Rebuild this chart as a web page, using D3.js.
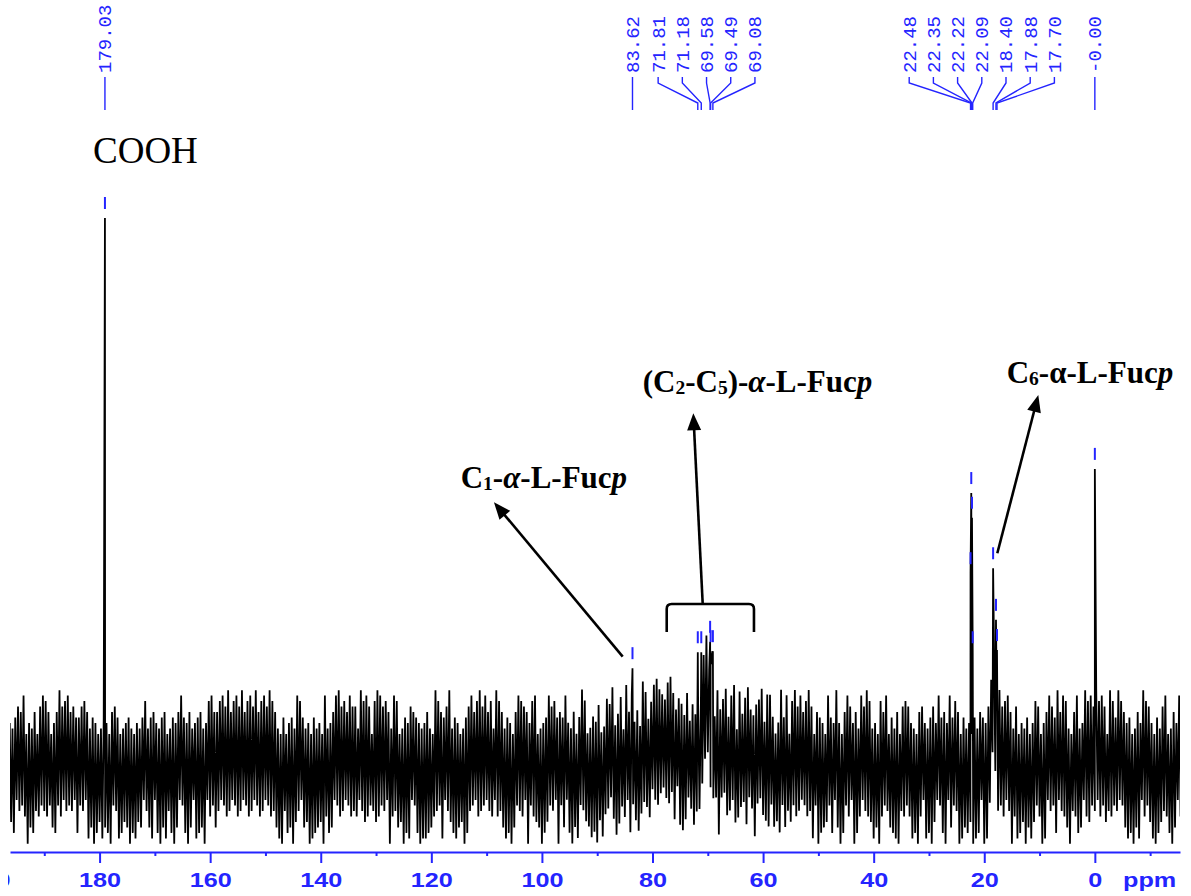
<!DOCTYPE html>
<html>
<head>
<meta charset="utf-8">
<script src="https://cdn.jsdelivr.net/npm/d3@7"></script>
<style>
  html, body { margin: 0; padding: 0; background: #fff; }
  svg { display: block; }
</style>
</head>
<body>
<svg id="chart" width="1191" height="896"></svg>
<script>
// ---- 13C NMR spectrum data (chemical shift in ppm, intensity in arbitrary units, baseline = 0) ----
const peakPpm    = [179.03, 83.62, 71.81, 71.18, 69.58, 69.49, 69.08, 22.48, 22.35, 22.22, 22.09, 18.40, 17.88, 17.70, 0.00];
const peakLabels = ["179.03", "83.62", "71.81", "71.18", "69.58", "69.49", "69.08", "22.48", "22.35", "22.22", "22.09", "18.40", "17.88", "17.70", "-0.00"];
const peakHeight = [100, 18.0, 20.9, 20.9, 22.8, 21.1, 21.1, 35.3, 49.9, 45.4, 20.9, 36.2, 26.8, 21.3, 54.3];

// broad, unresolved signal underneath the sharp lines
const broadPpm    = [75.0, 70.2, 18.35];
const broadHeight = [2.5, 8, 14];
const broadSpread = [7, 0.8, 0.25];

// baseline noise: one digit per 0.25 ppm step from 196.25 ppm downfield to upfield;
// even steps swing above the baseline, odd steps below it, by (5 + digit) units
const noiseStart = 196.25;
const noiseStep = 0.25;
const noiseDigits =
  "35274163528419362753146283745216375294617382536147" +
  "42637158264937152846371952634817253649271835264173" +
  "26485137294658132749365182473956213847562931748256" +
  "53718264935172846391527483619254738162947356281943" +
  "17364925837146253918472635198427365182946371528463" +
  "64219375846213759482637159248376152947386152473928" +
  "38572614937258416395274836152947638251749362815374" +
  "21947356284739165283746159327485162937458263714952" +
  "46813729561842937516284739651824736195284673159248" +
  "73264815937426518394726153849267315849276315482637" +
  "15739246851379426185347296158342769153486271943586" +
  "82461537924683157294638152749368125947361582473196" +
  "39175284613957248163947528361974528316472859136472" +
  "64382719546138274965318247593186427359184627351948" +
  "27514938627451839264718359246817352946183572641938" +
  "51836247915384762913548726319475826391748265139472" +
  "43917256384719265831947265381947256384172956318427" +
  "26374915832647195382647193528461739258416372951846";

// axis ticks (ppm)
const axisMajor = [200, 180, 160, 140, 120, 100, 80, 60, 40, 20, 0];
const axisMinor = [190, 170, 150, 130, 110, 90, 70, 50, 30, 10, -10];

// ---- drawing ----
const svg = d3.select("#chart");
const blue = "#2424ff";
const serif = "'Times New Roman', 'Liberation Serif', serif";
const sans = "Arial, 'Liberation Sans', sans-serif";
const mono = "'Courier New', 'Liberation Mono', monospace";

const x = d3.scaleLinear().domain([196.2, -15.4]).range([10, 1180]);
const y = d3.scaleLinear().domain([0, 100]).range([767, 218]);
const axisY = 852;

const defs = svg.append("defs");
defs.append("clipPath").attr("id", "plotClip")
  .append("rect").attr("x", x.range()[0]).attr("y", 0)
  .attr("width", x.range()[1] - x.range()[0]).attr("height", 896);
defs.append("clipPath").attr("id", "axisClip")
  .append("rect").attr("x", 8).attr("y", -1000).attr("width", 1183).attr("height", 2000);

// spectrum trace: noise + broad components on the grid, sharp lines inserted at their shifts
const samples = [];
for (let i = 0; i < noiseDigits.length; i++) {
  const ppm = noiseStart - i * noiseStep;
  let v = (i % 2 === 0 ? 1 : -1) * (5 + Number(noiseDigits[i]));
  broadPpm.forEach((c, k) => {
    v += broadHeight[k] * Math.exp(-((ppm - c) ** 2) / (2 * broadSpread[k] ** 2));
  });
  samples.push({ ppm, v });
}
peakPpm.forEach((p, k) => samples.push({ ppm: p, v: peakHeight[k] }));
samples.sort((a, b) => b.ppm - a.ppm);

svg.append("path")
  .datum(samples)
  .attr("clip-path", "url(#plotClip)")
  .attr("fill", "none")
  .attr("stroke", "#000")
  .attr("stroke-width", 1.8)
  .attr("stroke-linejoin", "bevel")
  .attr("d", d3.line().x(d => x(d.ppm)).y(d => y(d.v)));

// small blue markers above each picked peak
svg.append("g").selectAll("line")
  .data(peakPpm)
  .join("line")
  .attr("x1", d => x(d)).attr("x2", d => x(d))
  .attr("y1", (d, i) => y(peakHeight[i]) - 21)
  .attr("y2", (d, i) => y(peakHeight[i]) - 9)
  .attr("stroke", blue).attr("stroke-width", 2);

// peak-pick labels: spread crowded labels evenly around their peaks
const labelGap = 24.2;
let blocks = peakPpm.map((p, i) => ({ idx: [i], sum: x(p), start: x(p) }));
let merged = true;
while (merged) {
  merged = false;
  for (let i = 0; i < blocks.length - 1; i++) {
    const a = blocks[i], b = blocks[i + 1];
    if (a.start + a.idx.length * labelGap > b.start) {
      const idx = a.idx.concat(b.idx), sum = a.sum + b.sum;
      blocks.splice(i, 2, { idx, sum, start: sum / idx.length - (idx.length - 1) * labelGap / 2 });
      merged = true;
      break;
    }
  }
}
const labelX = [];
blocks.forEach(b => b.idx.forEach((k, j) => { labelX[k] = b.start + j * labelGap; }));

const pick = svg.append("g");
pick.selectAll("path")
  .data(peakPpm)
  .join("path")
  .attr("fill", "none")
  .attr("stroke", blue)
  .attr("stroke-width", 1.4)
  .attr("d", (p, i) => {
    const lx = labelX[i], px = x(p);
    return Math.abs(lx - px) < 0.5 ? `M${px},77V110` : `M${lx},77V83L${px},103V110`;
  });
pick.selectAll("text")
  .data(peakLabels)
  .join("text")
  .attr("transform", (t, i) => `translate(${labelX[i] + 6.5},73) rotate(-90)`)
  .attr("font-family", mono)
  .attr("font-size", 19)
  .attr("fill", blue)
  .text(t => t);

// ppm axis
const axisG = svg.append("g").attr("transform", `translate(0,${axisY})`);
axisG.append("g")
  .call(d3.axisBottom(x).tickValues(axisMinor).tickSize(4).tickSizeOuter(0).tickFormat(""))
  .call(g => g.select(".domain").remove())
  .call(g => g.selectAll("line").attr("stroke", blue).attr("stroke-width", 2));
const major = axisG.append("g")
  .attr("clip-path", "url(#axisClip)")
  .call(d3.axisBottom(x).tickValues(axisMajor).tickSize(11).tickSizeOuter(0).tickFormat(d3.format("d")));
major.select(".domain").attr("stroke", blue).attr("stroke-width", 2);
major.selectAll(".tick line").attr("stroke", blue).attr("stroke-width", 2);
major.selectAll(".tick text")
  .attr("y", 35).attr("dy", 0)
  .attr("transform", "scale(1.2,1)")
  .attr("font-family", sans).attr("font-weight", "bold").attr("font-size", 21)
  .attr("fill", blue);
axisG.append("text")
  .attr("transform", `translate(${x.range()[1] - 57},35) scale(1.2,1)`)
  .attr("font-family", sans).attr("font-weight", "bold").attr("font-size", 21)
  .attr("fill", blue)
  .text("ppm");

// ---- annotations ----
const ann = svg.append("g");

function richText(ppm, val, size, parts) {
  const t = ann.append("text")
    .attr("x", x(ppm)).attr("y", y(val))
    .attr("font-family", serif).attr("font-weight", "bold").attr("font-size", size)
    .attr("fill", "#000");
  let shift = 0;
  parts.forEach(p => {
    const s = t.append("tspan").text(p.t);
    const want = p.sub ? 1.5 : 0;
    if (want !== shift) { s.attr("dy", want - shift); shift = want; }
    if (p.sub) s.attr("font-size", size * 0.63);
    if (p.it) s.attr("font-style", "italic");
  });
}

function arrow(p1, v1, p2, v2) {
  const x1 = x(p1), y1 = y(v1), x2 = x(p2), y2 = y(v2);
  const dx = x2 - x1, dy = y2 - y1, len = Math.hypot(dx, dy);
  const ux = dx / len, uy = dy / len, hl = 17, hw = 7;
  const bx = x2 - ux * hl, by = y2 - uy * hl;
  ann.append("line")
    .attr("x1", x1).attr("y1", y1).attr("x2", bx + ux * 2).attr("y2", by + uy * 2)
    .attr("stroke", "#000").attr("stroke-width", 2.6);
  ann.append("path")
    .attr("d", `M${x2},${y2}L${bx - uy * hw},${by + ux * hw}L${bx + uy * hw},${by - ux * hw}Z`)
    .attr("fill", "#000");
}

ann.append("text")
  .attr("x", x(181.19)).attr("y", y(110.0))
  .attr("font-family", serif).attr("font-size", 37).attr("fill", "#000")
  .text("COOH");

richText(114.69, 50.8, 31, [{ t: "C" }, { t: "1", sub: true }, { t: "-" }, { t: "α", it: true }, { t: "-L-Fuc" }, { t: "p", it: true }]);
richText(81.77, 68.3, 31, [{ t: "(C" }, { t: "2", sub: true }, { t: "-C" }, { t: "5", sub: true }, { t: ")-" }, { t: "α", it: true }, { t: "-L-Fuc" }, { t: "p", it: true }]);
richText(15.94, 69.9, 31, [{ t: "C" }, { t: "6", sub: true }, { t: "-α-L-Fuc" }, { t: "p", it: true }]);

arrow(85.39, 20.09, 108.67, 48.22);
arrow(70.92, 29.69, 72.62, 64.43);
arrow(17.64, 38.93, 10.23, 67.76);

// bracket spanning the C2-C5 region
const bl = x(77.43), br = x(61.65), bt = y(29.69), bb = y(24.59), r = 5;
ann.append("path")
  .attr("d", `M${bl},${bb}V${bt + r}Q${bl},${bt} ${bl + r},${bt}H${br - r}Q${br},${bt} ${br},${bt + r}V${bb}`)
  .attr("fill", "none").attr("stroke", "#000").attr("stroke-width", 2.6);
</script>
</body>
</html>
